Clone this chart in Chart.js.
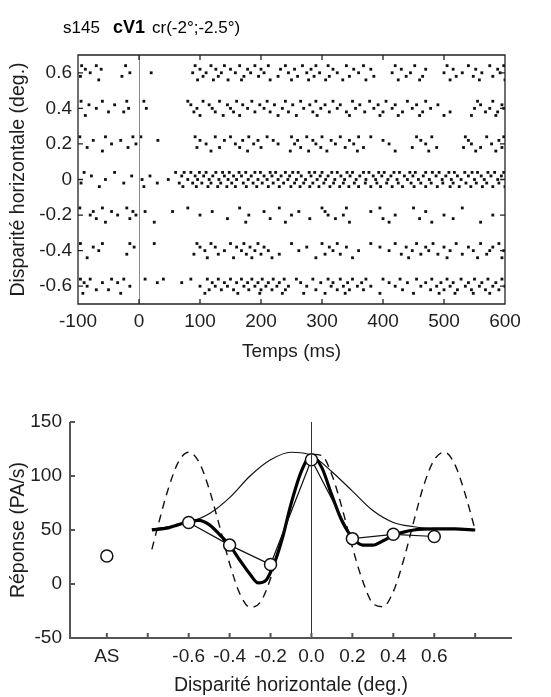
<!DOCTYPE html>
<html><head><meta charset="utf-8">
<script src="https://cdn.jsdelivr.net/npm/chart.js@4.4.1/dist/chart.umd.min.js"></script>
<style>
html,body{margin:0;padding:0;background:#fff;}
#wrap{position:relative;width:551px;height:697px;overflow:hidden;background:#fff;}
canvas{position:absolute;left:0;}
#c1{top:0;} #c2{top:375px;}
</style></head><body>
<div id="wrap"><canvas id="c1" width="551" height="375"></canvas><canvas id="c2" width="551" height="322"></canvas></div>
<script>
// ---------------- DATA: raster (top) ----------------
const disparities = [0.6, 0.4, 0.2, 0, -0.2, -0.4, -0.6];
const trialOffsets = [0.04, 0.02, 0, -0.02, -0.04];
const spikesP06 = [
  [-94,-70,-22,92,118,140,165,190,212,240,268,290,310,340,368,420,452,505,540,575,598],
  [-88,-62,100,126,150,178,200,232,255,282,318,352,380,430,470,515,552,588],
  [-80,-15,20,88,110,135,158,183,205,245,275,296,325,360,415,445,500,530,562,592],
  [-96,-28,105,130,172,196,228,260,287,312,345,385,438,465,520,548,580],
  [-66,96,122,146,168,215,250,278,306,334,372,425,460,510,558,600]
];
const spikesP04 = [
  [-95,-60,-20,8,80,105,132,160,185,210,240,265,290,318,350,378,405,440,470,555,580],
  [-82,-40,85,115,145,170,198,222,252,280,305,330,362,392,420,455,490,560,595],
  [-70,-17,12,95,120,150,178,205,235,270,298,325,355,385,415,448,478,550,575,598],
  [-50,-25,90,125,155,190,215,245,285,312,340,370,400,432,465,510,568,588],
  [-88,100,138,165,228,258,292,345,395,425,460,500,545,585]
];
const spikesP02 = [
  [-97,-55,-10,3,92,125,150,180,210,250,275,300,330,360,380,455,480,535,570,598],
  [-75,-30,31,100,140,170,195,220,260,285,315,345,400,462,540,590],
  [-45,-5,110,158,188,228,255,290,322,352,410,470,545,578],
  [-85,-18,95,132,165,200,265,298,338,368,448,488,532,560,595],
  [-60,118,178,248,278,308,358,420,475,552,585]
];
const spikesZero = [
  [-90,-40,60,74,85,99,110,126,137,148,164,175,190,199,215,224,240,252,261,279,288,300,316,325,341,350,368,377,393,402,418,427,444,453,470,481,492,508,517,534,546,555,572,583,598],
  [-78,-12,18,70,92,106,121,140,155,168,184,205,218,233,247,266,282,297,310,331,346,362,384,398,413,435,449,466,487,503,522,540,561,577,594],
  [-55,5,48,80,96,115,131,146,160,179,195,210,228,244,258,273,292,306,321,337,356,372,388,408,423,440,458,476,497,512,528,550,566,588],
  [-95,-25,30,66,88,103,118,134,152,171,187,202,220,237,255,270,285,303,319,335,353,371,390,406,425,446,462,479,498,515,536,553,570,590],
  [-65,8,72,94,113,129,144,158,176,193,212,230,249,264,280,295,313,329,344,360,380,396,415,432,451,470,489,510,525,544,563,580,600]
];
const spikesM02 = [
  [-97,-60,-20,80,165,230,300,340,395,450,530],
  [-75,-45,-10,10,55,120,205,262,305,380,470],
  [-80,-35,-5,100,180,250,310,335,420,500,580],
  [-70,-15,145,215,280,322,400,460,515],
  [-55,25,175,240,345,410,480,560]
];
const spikesM04 = [
  [-96,-60,-15,25,95,118,150,172,195,250,300,325,380,420,455,482,520,560,590],
  [-75,-8,100,125,160,182,205,275,312,340,395,438,470,500,540,580],
  [-66,108,140,168,190,212,262,318,360,410,448,475,510,548,575,598],
  [-20,90,130,176,200,230,305,330,430,462,490,530,570],
  [-85,112,155,185,218,290,350,442,505,555,595]
];
const spikesM06 = [
  [-96,-80,-45,-25,10,40,85,112,130,150,168,185,202,220,238,258,285,310,330,350,372,400,428,455,480,505,528,550,572,595],
  [-90,-60,-35,30,70,120,140,160,178,195,212,230,265,298,318,342,365,410,440,470,495,515,540,562,585],
  [-85,-15,100,125,145,172,190,208,226,245,275,315,335,358,380,420,462,488,510,535,558,580,600],
  [-70,-50,115,135,155,180,200,218,240,290,325,345,368,432,478,500,522,545,568,590],
  [-92,-30,108,162,198,235,270,305,338,395,450,492,518,548,575]
];
const rasterTrials = [spikesP06, spikesP04, spikesP02, spikesZero, spikesM02, spikesM04, spikesM06];
const timeTicks = [-100, 0, 100, 200, 300, 400, 500, 600];
const disparityTicks = [-0.6, -0.4, -0.2, 0, 0.2, 0.4, 0.6];

// ---------------- DATA: tuning curve (bottom) ----------------
const asResponse = 26;
const testDisparities = [-0.6, -0.4, -0.2, 0, 0.2, 0.4, 0.6];
const meanResponse = [57, 36, 18, 115, 42, 46, 44];
const tuningTicks = [-1, -0.8, -0.6, -0.4, -0.2, 0, 0.2, 0.4, 0.6, 0.8];
const tuningTickLabels = ['AS', '', '-0.6', '-0.4', '-0.2', '0.0', '0.2', '0.4', '0.6', ''];
const responseTicks = [-50, 0, 50, 100, 150];
const gaborX = [-0.78,-0.7,-0.65,-0.6,-0.55,-0.5,-0.45,-0.4,-0.35,-0.3,-0.26,-0.22,-0.18,-0.14,-0.1,-0.05,0,0.05,0.1,0.15,0.2,0.25,0.3,0.35,0.4,0.45,0.5,0.6,0.7,0.8];
const gaborFit = [50,52,55,58,59,55,46,36,22,9,1,4,20,44,74,104,119,108,82,58,43,36,36,40,45,48,50,51,51,50];
const gaussX = [-0.78,-0.7,-0.6,-0.5,-0.4,-0.3,-0.2,-0.1,0,0.1,0.2,0.3,0.4,0.5,0.6,0.7,0.8];
const gaussFit = [51,53,57,65,80,100,115,122,119,104,86,68,57,53,51,50.5,50];
const carrierX = [-0.78,-0.75,-0.7,-0.65,-0.6,-0.55,-0.5,-0.45,-0.4,-0.35,-0.3,-0.25,-0.2,-0.15,-0.1,-0.05,0,0.05,0.1,0.15,0.2,0.25,0.3,0.35,0.4,0.45,0.5,0.55,0.6,0.65,0.7,0.75,0.8];
const carrierFit = [32,54,88,113,122,113,88,54,19,-9,-21.5,-17,5,38,74,104,120,119,101,70,34,3,-18,-21,-7,22,58,92,115,122,111,84,50];

// ---------------- helpers ----------------
const FONT = "'Liberation Sans', Arial, Helvetica, sans-serif";
const TXT = '#1e1e1e';
const pairs = (xs, ys) => xs.map((x, i) => ({x, y: ys[i]}));

const rasterPoints = [];
rasterTrials.forEach((trials, d) => {
  trials.forEach((times, t) => {
    times.forEach(tm => rasterPoints.push({x: tm, y: disparities[d] + trialOffsets[t]}));
  });
});

const framePlugin = {
  id: 'frame',
  afterDatasetsDraw(chart, args, o) {
    const {ctx, chartArea: a, scales} = chart;
    const sx = scales.x, sy = scales.y;
    ctx.save();
    if (o.zero) {
      const zx = Math.round(sx.getPixelForValue(0)) + 0.5;
      ctx.strokeStyle = o.zero.color; ctx.lineWidth = 1;
      ctx.beginPath();
      ctx.moveTo(zx, o.zero.from !== undefined ? sy.getPixelForValue(o.zero.from) : a.top);
      ctx.lineTo(zx, a.bottom);
      ctx.stroke();
    }
    ctx.strokeStyle = o.color; ctx.lineWidth = o.width;
    ctx.beginPath();
    if (o.box) {
      ctx.rect(a.left, a.top, a.right - a.left, a.bottom - a.top);
    } else {
      ctx.moveTo(a.left, a.top); ctx.lineTo(a.left, a.bottom); ctx.lineTo(a.right, a.bottom);
    }
    const L = o.tick;
    sx.ticks.forEach(t => {
      const p = sx.getPixelForValue(t.value);
      ctx.moveTo(p, a.bottom); ctx.lineTo(p, a.bottom - L);
      if (o.box) { ctx.moveTo(p, a.top); ctx.lineTo(p, a.top + L); }
    });
    sy.ticks.forEach(t => {
      const p = sy.getPixelForValue(t.value);
      ctx.moveTo(a.left, p); ctx.lineTo(a.left + L, p);
      if (o.box) { ctx.moveTo(a.right, p); ctx.lineTo(a.right - L, p); }
    });
    ctx.stroke();
    ctx.restore();
  }
};

const headerPlugin = {
  id: 'header',
  afterDraw(chart) {
    const ctx = chart.ctx;
    ctx.save();
    ctx.fillStyle = '#000';
    ctx.textBaseline = 'middle';
    ctx.font = '17px ' + FONT;
    ctx.fillText('s145', 63, 28);
    ctx.font = 'bold 18px ' + FONT;
    ctx.fillText('cV1', 113, 28);
    ctx.font = '17px ' + FONT;
    ctx.fillText('cr(-2°;-2.5°)', 152, 28);
    ctx.restore();
  }
};

Chart.defaults.font.family = FONT;
Chart.defaults.color = TXT;

// ---------------- TOP: raster ----------------
new Chart(document.getElementById('c1'), {
  type: 'scatter',
  data: { datasets: [{
    data: rasterPoints,
    pointStyle: 'rect', pointRadius: 2, pointBorderWidth: 0,
    pointBackgroundColor: '#111', borderColor: '#111'
  }]},
  options: {
    responsive: false, animation: false, devicePixelRatio: 1, events: [],
    layout: { padding: { left: 0, right: 46, top: 55, bottom: 0 } },
    plugins: { legend: { display: false }, tooltip: { enabled: false },
      frame: { color: '#222', width: 1.3, tick: 5, box: true, zero: { color: '#8a8a8a' } } },
    scales: {
      x: {
        type: 'linear', min: -100, max: 600,
        afterBuildTicks: s => { s.ticks = timeTicks.map(v => ({value: v})); },
        afterFit: s => { s.height = 71; },
        grid: { display: false, drawTicks: false }, border: { display: false },
        ticks: { font: { size: 19 }, color: TXT, padding: 6, maxRotation: 0, autoSkip: false, callback: v => String(v) },
        title: { display: true, text: 'Temps (ms)', font: { size: 19 }, color: TXT, padding: { top: 0, bottom: 12 } }
      },
      y: {
        type: 'linear', min: -0.7, max: 0.7,
        afterBuildTicks: s => { s.ticks = disparityTicks.map(v => ({value: v})); },
        afterFit: s => { s.width = 78; },
        grid: { display: false, drawTicks: false }, border: { display: false },
        ticks: { font: { size: 19 }, color: TXT, padding: 6, autoSkip: false, callback: v => (Math.abs(v) < 1e-9 ? '0' : v.toFixed(1)) },
        title: { display: true, text: 'Disparité horizontale (deg.)', font: { size: 19.5 }, color: TXT, padding: { top: 7, bottom: 0 } }
      }
    }
  },
  plugins: [framePlugin, headerPlugin]
});

// ---------------- BOTTOM: tuning curve ----------------
new Chart(document.getElementById('c2'), {
  type: 'scatter',
  data: { datasets: [
    { data: [{x: -1, y: asResponse}], showLine: false, pointRadius: 6, pointBorderWidth: 1.5,
      pointBackgroundColor: '#fff', pointBorderColor: '#111' },
    { data: pairs(testDisparities, meanResponse), showLine: true, borderColor: '#111', borderWidth: 1.2,
      pointRadius: 6, pointBorderWidth: 1.5, pointBackgroundColor: '#fff', pointBorderColor: '#111' },
    { data: pairs(gaborX, gaborFit), showLine: true, borderColor: '#000', borderWidth: 3.2,
      pointRadius: 0, cubicInterpolationMode: 'monotone' },
    { data: pairs(gaussX, gaussFit), showLine: true, borderColor: '#111', borderWidth: 1.2,
      pointRadius: 0, cubicInterpolationMode: 'monotone' },
    { data: pairs(carrierX, carrierFit), showLine: true, borderColor: '#111', borderWidth: 1.4,
      borderDash: [8, 6], pointRadius: 0, cubicInterpolationMode: 'monotone' }
  ]},
  options: {
    responsive: false, animation: false, devicePixelRatio: 1, events: [],
    layout: { padding: { left: 0, right: 39, top: 47, bottom: 0 } },
    plugins: { legend: { display: false }, tooltip: { enabled: false },
      frame: { color: '#555', width: 2, tick: 5, box: false, zero: { color: '#333', from: 150 } } },
    scales: {
      x: {
        type: 'linear', min: -1.18, max: 0.98,
        afterBuildTicks: s => { s.ticks = tuningTicks.map(v => ({value: v})); },
        afterFit: s => { s.height = 59; },
        grid: { display: false, drawTicks: false }, border: { display: false },
        ticks: { font: { size: 19 }, color: TXT, padding: 7, maxRotation: 0, autoSkip: false,
          callback: (v, i) => tuningTickLabels[i] },
        title: { display: true, text: 'Disparité horizontale (deg.)', font: { size: 19.5 }, color: TXT, padding: { top: 0, bottom: 0 } }
      },
      y: {
        type: 'linear', min: -50, max: 150,
        afterBuildTicks: s => { s.ticks = responseTicks.map(v => ({value: v})); },
        afterFit: s => { s.width = 70; },
        grid: { display: false, drawTicks: false }, border: { display: false },
        ticks: { font: { size: 19 }, color: TXT, padding: 8, autoSkip: false, callback: v => String(v) },
        title: { display: true, text: 'Réponse (PA/s)', font: { size: 19.5 }, color: TXT, padding: { top: 7, bottom: 0 } }
      }
    }
  },
  plugins: [framePlugin]
});
</script></body></html>
